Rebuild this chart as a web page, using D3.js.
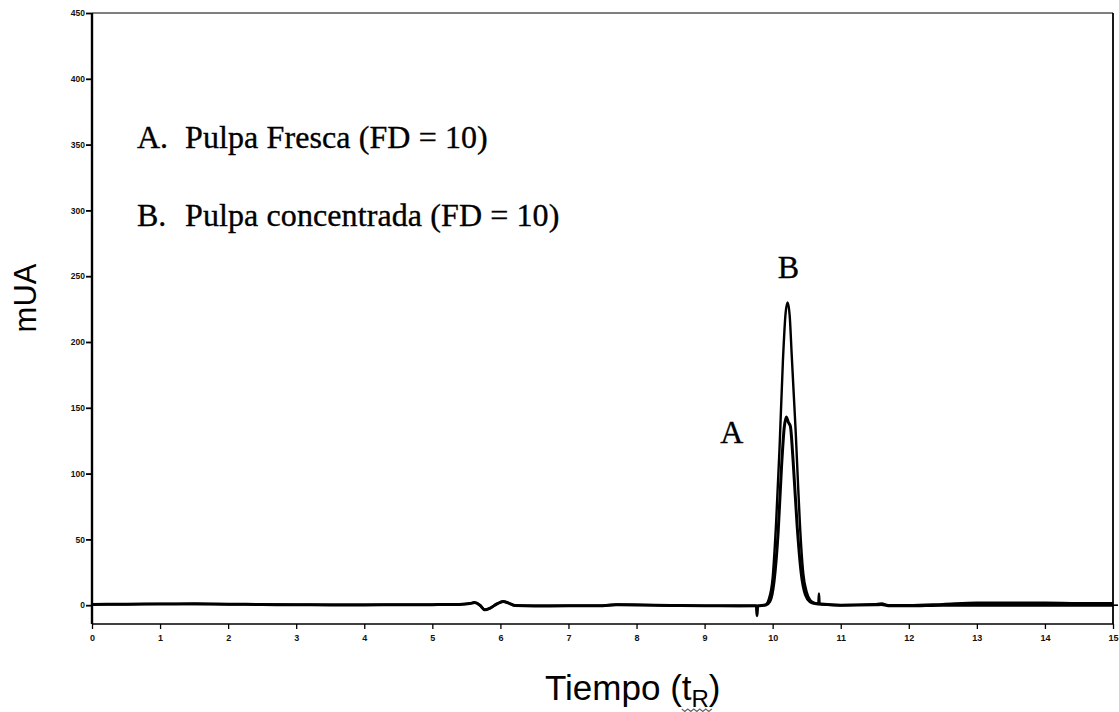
<!DOCTYPE html>
<html><head><meta charset="utf-8">
<script src="https://cdn.jsdelivr.net/npm/d3@7"></script>
<style>body{margin:0;background:#fff} svg{display:block}</style>
</head><body>
<svg id="chart" width="1119" height="712"></svg>
<script>
// ---- data ----
const xTicks = [0,1,2,3,4,5,6,7,8,9,10,11,12,13,14,15];
const yTicks = [0,50,100,150,200,250,300,350,400,450];

// A. Pulpa Fresca (FD = 10)  [time, mUA]
const traceA = [
  [0,0.6],[0.5,0.8],[1,0.9],[1.5,1],[2,0.8],[2.5,0.5],[3,0.3],[3.5,0.2],[4,0.2],[4.5,0.3],
  [5,0.4],[5.4,0.6],[5.55,1.2],[5.62,2],[5.7,0],[5.77,-3.5],[5.85,-2.2],[5.95,1],[6.04,2.8],
  [6.12,1.6],[6.22,-0.3],[6.5,-0.6],[7,-0.5],[7.5,-0.4],[7.7,0.3],[8,0.2],[8.5,-0.2],[9,-0.4],
  [9.5,-0.5],[9.76,-0.5],[9.77,-8],[9.78,-0.5],[9.9,0.2],[9.96,3],[10.02,18],[10.08,55],
  [10.13,105],[10.17,135],[10.2,143],[10.23,139],[10.26,136],[10.3,110],[10.36,60],[10.42,24],
  [10.48,8],[10.55,2.5],[10.6,1.5],[10.8,0.5],[11,0],[11.5,0.3],[11.6,0.5],[11.7,-0.5],
  [12,-0.5],[12.5,0],[13,0],[14,0],[14.5,0],[15,0]
];

// B. Pulpa concentrada (FD = 10)  [time, mUA]
const traceB = [
  [0,0.6],[0.5,0.7],[1,1],[1.5,0.9],[2,0.7],[2.5,0.6],[3,0.4],[3.5,0.3],[4,0.3],[4.5,0.4],
  [5,0.4],[5.4,0.6],[5.55,1.2],[5.62,2],[5.7,0],[5.77,-3.5],[5.85,-2.2],[5.95,1],[6.04,2.8],
  [6.12,1.6],[6.22,-0.3],[6.5,-0.4],[7,-0.3],[7.5,-0.3],[7.7,0.5],[8,0.4],[8.5,-0.3],[9,-0.5],
  [9.5,-0.6],[9.8,-0.5],[9.9,0.5],[9.94,4],[10.0,21],[10.05,62],[10.1,118],[10.15,185],
  [10.19,222],[10.22,230],[10.25,220],[10.28,190],[10.31,160],[10.34,130],[10.37,95],
  [10.4,62],[10.45,24],[10.5,10],[10.55,4],[10.6,2],[10.67,1],[10.68,9],[10.69,1],
  [10.75,0.5],[11,0],[11.5,0.8],[11.6,1.3],[11.7,0],[12,0],[12.5,0.8],[13,1.8],[13.5,1.8],
  [14,1.8],[14.5,1.5],[15,1.5]
];

const legendKeys = ["A.", "B."];
const legendLabels = ["Pulpa Fresca (FD = 10)", "Pulpa concentrada (FD = 10)"];
// peak annotation letters placed in data space [time, mUA]
const peakLabels = [["A", 9.40, 123], ["B", 10.23, 249]];

// ---- chart ----
const svg = d3.select("#chart");
const x = d3.scaleLinear().domain([0, 15]).range([92, 1113]);
const y = d3.scaleLinear().domain([-14.3, 450]).range([624, 13]);

// frame
const frame = svg.append("g").attr("fill", "none").attr("stroke", "#000");
frame.append("line").attr("x1", x(0)).attr("x2", x(15)).attr("y1", y(450)).attr("y2", y(450)).attr("stroke-width", 1.2);
frame.append("line").attr("x1", x(15)).attr("x2", x(15)).attr("y1", y(450)).attr("y2", y(-14.3)).attr("stroke-width", 1.8);
frame.append("line").attr("x1", x(0)).attr("x2", x(15)).attr("y1", y(-14.3)).attr("y2", y(-14.3)).attr("stroke-width", 1.6);
frame.append("line").attr("x1", x(0)).attr("x2", x(0)).attr("y1", y(450)).attr("y2", y(-14.3)).attr("stroke-width", 2.4);

// y axis
const yAxis = svg.append("g").attr("transform", `translate(${x(0)},0)`)
  .call(d3.axisLeft(y).tickValues(yTicks).tickSize(6).tickPadding(1));
yAxis.select(".domain").remove();
yAxis.selectAll(".tick line").attr("stroke", "#000").attr("stroke-width", 1.8);
yAxis.selectAll(".tick text").attr("font-family", "Liberation Sans, Arial, sans-serif")
  .attr("font-size", 8.5).attr("font-weight", "bold").attr("fill", "#111");

// x axis
const xAxis = svg.append("g").attr("transform", `translate(0,${y(-14.3)})`)
  .call(d3.axisBottom(x).tickValues(xTicks).tickSize(5).tickPadding(6));
xAxis.select(".domain").remove();
xAxis.selectAll(".tick line").attr("stroke", "#000").attr("stroke-width", 1.3);
xAxis.selectAll(".tick text").attr("font-family", "Liberation Sans, Arial, sans-serif")
  .attr("font-size", 9).attr("font-weight", "bold").attr("fill", "#111");

// right-side zero tick
svg.append("line").attr("x1", x(15)).attr("x2", x(15) + 5).attr("y1", y(0)).attr("y2", y(0))
  .attr("stroke", "#000").attr("stroke-width", 1.6);

// traces
const line = d3.line().x(d => x(d[0])).y(d => y(d[1])).curve(d3.curveMonotoneX);
svg.append("path").datum(traceB).attr("d", line).attr("fill", "none")
  .attr("stroke", "#000").attr("stroke-width", 2.4).attr("stroke-linejoin", "round");
svg.append("path").datum(traceA).attr("d", line).attr("fill", "none")
  .attr("stroke", "#000").attr("stroke-width", 3).attr("stroke-linejoin", "round");

// legend text
const legendBaselines = [148, 226];
const leg = svg.append("g").attr("font-family", "Liberation Serif, 'Times New Roman', serif")
  .attr("font-size", 32).attr("fill", "#000").attr("stroke", "#000").attr("stroke-width", 0.35);
legendKeys.forEach((k, i) => {
  leg.append("text").attr("x", 137).attr("y", legendBaselines[i]).text(k);
  leg.append("text").attr("x", 185).attr("y", legendBaselines[i]).attr("letter-spacing", 0.1).text(legendLabels[i]);
});

// peak letters
svg.append("g").selectAll("text").data(peakLabels).join("text")
  .attr("x", d => x(d[1])).attr("y", d => y(d[2]))
  .attr("text-anchor", "middle")
  .attr("font-family", "Liberation Serif, 'Times New Roman', serif")
  .attr("font-size", 32).attr("fill", "#000").attr("stroke", "#000").attr("stroke-width", 0.35)
  .text(d => d[0]);

// axis titles
svg.append("text").attr("transform", "translate(36,298) rotate(-90)")
  .attr("text-anchor", "middle").attr("font-family", "Liberation Sans, Arial, sans-serif")
  .attr("font-size", 31).attr("fill", "#000").text("mUA");

const xt = svg.append("text").attr("x", 545).attr("y", 700)
  .attr("font-family", "Liberation Sans, Arial, sans-serif").attr("font-size", 35).attr("fill", "#000");
xt.append("tspan").text("Tiempo (t");
xt.append("tspan").attr("font-size", 24).attr("dy", 7).text("R");
xt.append("tspan").attr("dy", -7).text(")");

// spell-check style wavy underline below "tR" (as in the scan)
const full = xt.node();
const tStart = full.getStartPositionOfChar(8);
const rEnd = full.getEndPositionOfChar(9);
const wy = tStart.y + 9;
let wav = `M${tStart.x},${wy}`;
for (let px = tStart.x, k = 0; px < rEnd.x; px += 3, k++) {
  wav += ` L${px + 3},${wy + (k % 2 ? 0 : 2.5)}`;
}
svg.append("path").attr("d", wav).attr("fill", "none").attr("stroke", "#666").attr("stroke-width", 1.2);
</script>
</body></html>
